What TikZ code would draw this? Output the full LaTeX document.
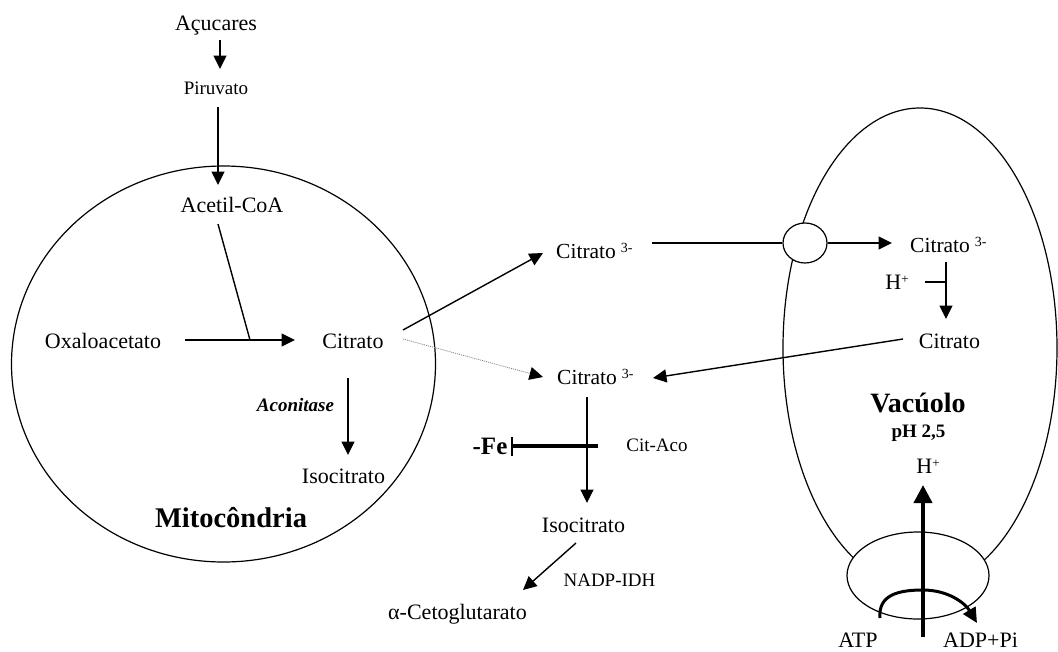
\documentclass[tikz,border=0pt]{standalone}
\usepackage{fontspec}
\setmainfont{Liberation Serif}
\usetikzlibrary{arrows.meta,shapes.geometric}
\begin{document}
\begin{tikzpicture}[x=1pt,y=-1pt,
  txt/.style={inner sep=0pt, anchor=base, font=\fontsize{22}{24}\selectfont},
  txtw/.style={inner sep=0pt, anchor=base west, font=\fontsize{21.5}{24}\selectfont},
  sm/.style={inner sep=0pt, anchor=base, font=\fontsize{19}{22}\selectfont},
  bsm/.style={inner sep=0pt, anchor=base, font=\fontsize{19}{22}\selectfont\bfseries},
  big/.style={inner sep=0pt, anchor=base, font=\fontsize{28.5}{32}\selectfont\bfseries},
  ln/.style={line width=1.4pt},
  arr/.style={line width=1.4pt, -{Triangle[length=13.5pt,width=13pt]}},
  memb/.style={line width=1.2pt}]
\useasboundingbox (0,0) rectangle (1058,651);

% membranes
\draw[memb] (223.5,364) ellipse [x radius=212, y radius=198];
\draw[memb] (920,348) ellipse [x radius=137, y radius=240];
\node[draw, memb, fill=white, ellipse, inner sep=0pt, minimum width=44pt, minimum height=40pt] (trans) at (805,243) {};
\node[draw, memb, fill=white, ellipse, inner sep=0pt, minimum width=142pt, minimum height=87pt] (pump) at (918,575.5) {};

% texts
\node[txt] (acu) at (216,30) {Açucares};
\node[sm] (piru) at (216,94) {Piruvato};
\node[txt] (acet) at (232,212) {Acetil-CoA};
\node[txt] (oxa) at (103,348) {Oxaloacetato};
\node[txt] (cit) at (353,348) {Citrato};
\node[bsm] (acon) at (295.5,411) {\itshape Aconitase};
\node[txt] (iso1) at (343.5,483) {Isocitrato};
\node[big] (mito) at (231,527) {Mitocôndria};
\node[txtw] (c3a) at (556,258) {Citrato\hspace{5pt}\raisebox{6pt}{\fontsize{14}{14}\selectfont 3-}};
\node[txtw] (c3b) at (557,384) {Citrato\hspace{5pt}\raisebox{6pt}{\fontsize{14}{14}\selectfont 3-}};
\node[txtw] (c3c) at (910,252) {Citrato\hspace{5pt}\raisebox{6pt}{\fontsize{14}{14}\selectfont 3-}};
\node[inner sep=0pt, anchor=base, font=\fontsize{25}{28}\selectfont\bfseries] (fe) at (490,454) {-Fe};
\node[sm] (citaco) at (657,451) {Cit-Aco};
\node[txt] (iso2) at (583.5,532) {Isocitrato};
\node[sm] (nadp) at (609.5,586) {NADP-IDH};
\node[txt] (akg) at (457.5,619) {α-Cetoglutarato};
\node[txt] (h1) at (897,289) {H\raisebox{6pt}{\fontsize{13}{13}\selectfont +}};
\node[txt] (cit2) at (949.5,348) {Citrato};
\node[big, font=\fontsize{28}{32}\selectfont\bfseries] (vac) at (918,412) {Vacúolo};
\node[bsm] (ph) at (918.5,437) {pH 2,5};
\node[txt] (h2) at (928,473) {H\raisebox{6pt}{\fontsize{13}{13}\selectfont +}};
\node[txt] (atp) at (858,647) {ATP};
\node[txt] (adp) at (980.5,647) {ADP+Pi};

% connector end points
\coordinate (acuS) at (220,40);   \coordinate (piruN) at (220,69);
\coordinate (piruS) at (218,107); \coordinate (acetN) at (218,185);
\coordinate (acetS) at (218,224); \coordinate (join) at (250,340);
\coordinate (oxaE) at (185,340);  \coordinate (citW) at (295,340);
\coordinate (citS) at (348,378);  \coordinate (iso1N) at (348,455);
\coordinate (citE1) at (403,330); \coordinate (c3aW) at (543,253);
\coordinate (citE2) at (403,339); \coordinate (c3bW) at (543,377);
\coordinate (c3aE) at (652,243);  \coordinate (c3cW) at (892,243);
\coordinate (c3cS) at (946,262);  \coordinate (cit2N) at (946,319);
\coordinate (h1E) at (925,282);   \coordinate (h1T) at (946,282);
\coordinate (cit2W) at (903,339); \coordinate (c3bE) at (653,378);
\coordinate (c3bS) at (587,397);  \coordinate (iso2N) at (587,503);
\coordinate (feE) at (512,446);   \coordinate (inhE) at (598,446);
\coordinate (feT) at (512,437);   \coordinate (feB) at (512,456);
\coordinate (iso2S) at (576,543); \coordinate (akgN) at (523,590);
\coordinate (pumpB) at (923,637); \coordinate (h2S) at (923,485);
\coordinate (atpN) at (880,618);  \coordinate (adpN) at (977,623);

% connectors
\draw[arr] (acuS) -- (piruN);
\draw[arr] (piruS) -- (acetN);
\draw[ln] (acetS) -- (join);
\draw[arr] (oxaE) -- (citW);
\draw[arr] (citS) -- (iso1N);
\draw[arr] (citE1) -- (c3aW);
\draw[line width=0.8pt, gray, dash pattern=on 1pt off 1pt, -{Triangle[length=13.5pt,width=13pt,black]}] (citE2) -- (c3bW);
\draw[ln] (c3aE) -- (trans.west);
\draw[arr] (trans.east) -- (c3cW);
\draw[arr] (c3cS) -- (cit2N);
\draw[ln] (h1E) -- (h1T);
\draw[arr] (cit2W) -- (c3bE);
\draw[arr] (c3bS) -- (iso2N);
\draw[line width=4pt] (feE) -- (inhE);
\draw[ln] (feT) -- (feB);
\draw[arr] (iso2S) -- (akgN);
\draw[line width=4pt, -{Triangle[length=18pt,width=18pt]}] (pumpB) -- (h2S);
\draw[line width=3pt, -{Triangle[length=15pt,width=14pt]}] (atpN) .. controls (878,595) and (898,590) .. (923,590) .. controls (948,590) and (965,603) .. (adpN);
\end{tikzpicture}
\end{document}
